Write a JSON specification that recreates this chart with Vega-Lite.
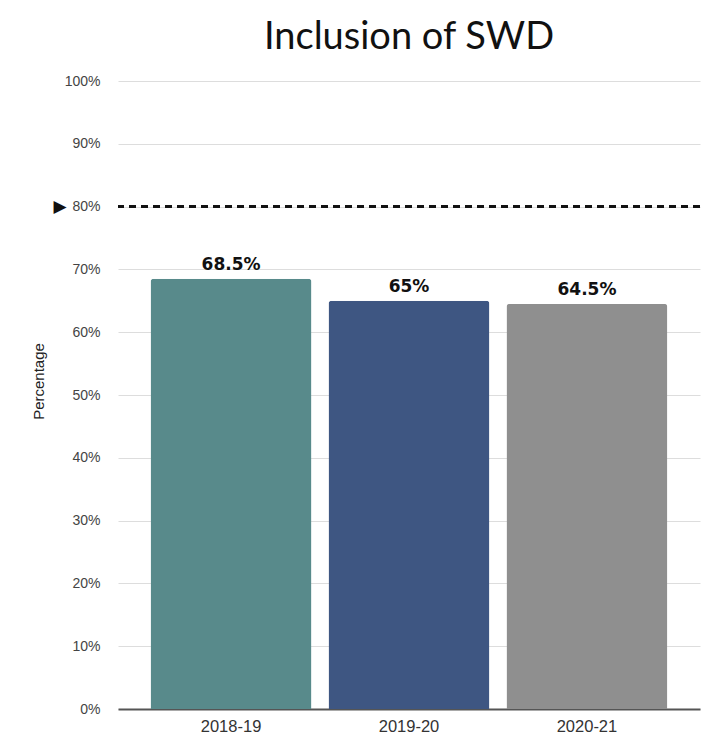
{
  "$schema": "https://vega.github.io/schema/vega-lite/v6.json",
  "autosize": {"type": "none"},
  "width": 582,
  "height": 628,
  "padding": {"left": 118, "top": 81, "right": 6, "bottom": 41},
  "background": "white",
  "title": {
    "text": "Inclusion of SWD",
    "font": "Lato",
    "fontSize": 38,
    "fontWeight": "normal",
    "color": "#111111",
    "anchor": "middle",
    "offset": 17
  },
  "config": {
    "view": {"stroke": null},
    "axis": {"labelFont": "Liberation Sans", "titleFont": "Liberation Sans"}
  },
  "data": {
    "values": [
      {"year": "2018-19", "pct": 68.5},
      {"year": "2019-20", "pct": 65},
      {"year": "2020-21", "pct": 64.5}
    ]
  },
  "resolve": {"axis": {"y": "independent"}},
  "layer": [
    {
      "mark": {
        "type": "bar",
        "cornerRadiusTopLeft": 3,
        "cornerRadiusTopRight": 3
      },
      "encoding": {
        "x": {
          "field": "year",
          "type": "nominal",
          "sort": null,
          "scale": {"paddingInner": 0.0955, "paddingOuter": 0.183},
          "axis": {
            "title": null,
            "labelAngle": 0,
            "labelFontSize": 16.5,
            "labelColor": "#333333",
            "labelPadding": 9,
            "ticks": false,
            "domain": true,
            "domainColor": "#555555",
            "domainWidth": 2
          }
        },
        "y": {
          "field": "pct",
          "type": "quantitative",
          "scale": {"domain": [0, 100]},
          "axis": {
            "orient": "left",
            "title": null,
            "values": [0, 10, 20, 30, 40, 50, 60, 70, 80, 90, 100],
            "labelExpr": "datum.value + '%'",
            "labelFontSize": 14,
            "labelColor": "#444444",
            "labelPadding": 18,
            "ticks": false,
            "domain": false,
            "grid": true,
            "gridColor": "#dddddd",
            "gridWidth": 1
          }
        },
        "color": {
          "field": "year",
          "type": "nominal",
          "scale": {
            "domain": ["2018-19", "2019-20", "2020-21"],
            "range": ["#588a8b", "#3e5682", "#8f8f8f"]
          },
          "legend": null
        }
      }
    },
    {
      "transform": [{"calculate": "datum.pct + '%'", "as": "label"}],
      "mark": {
        "type": "text",
        "baseline": "bottom",
        "dy": -5,
        "font": "DejaVu Sans",
        "fontSize": 17,
        "fontWeight": "bold",
        "color": "#111111"
      },
      "encoding": {
        "x": {"field": "year", "type": "nominal", "sort": null},
        "y": {"field": "pct", "type": "quantitative", "axis": null},
        "text": {"field": "label", "type": "nominal"}
      }
    },
    {
      "mark": {
        "type": "rule",
        "color": "#111111",
        "strokeWidth": 2.5,
        "strokeDash": [7, 5]
      },
      "encoding": {
        "y": {
          "datum": 80,
          "type": "quantitative",
          "axis": {
            "orient": "left",
            "title": "Percentage",
            "titleFontSize": 15,
            "titleFontWeight": "normal",
            "titleColor": "#222222",
            "titlePadding": 6,
            "titleY": 300,
            "values": [80],
            "labelExpr": "'▶'",
            "labelFont": "DejaVu Sans",
            "labelFontSize": 17,
            "labelColor": "#111111",
            "labelPadding": 2,
            "offset": 50,
            "ticks": false,
            "domain": false,
            "grid": false
          }
        }
      }
    }
  ]
}
